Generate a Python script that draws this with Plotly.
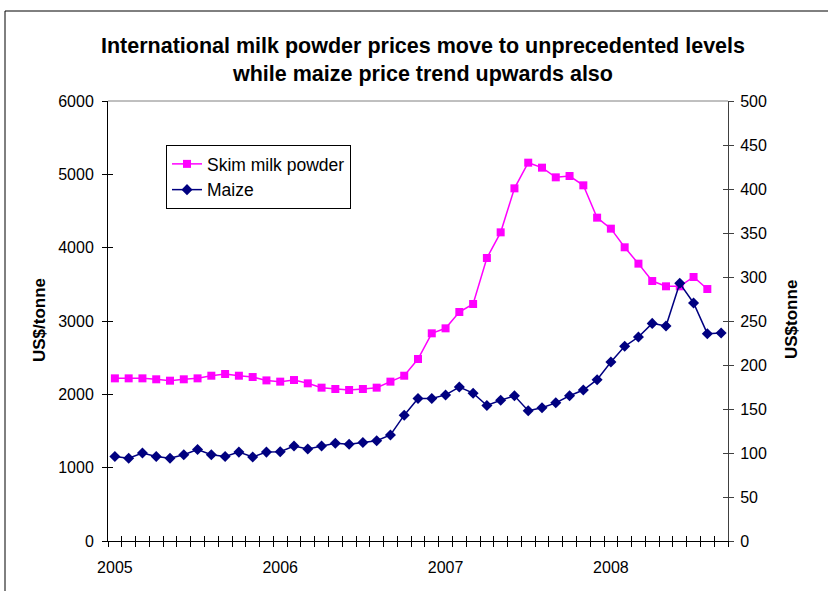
import plotly.graph_objects as go

# ---- data (monthly, Jan 2005 .. Sep 2008) ----
year_labels = ["2005", "2006", "2007", "2008"]
year_positions = [0, 12, 24, 36]

skim_milk_powder = [
    2218, 2218, 2218, 2205, 2186, 2205, 2218, 2254, 2277, 2254, 2236, 2190,
    2173, 2195, 2150, 2091, 2073, 2059, 2073, 2091, 2173, 2254, 2482, 2832,
    2900, 3123, 3232, 3859, 4209, 4809, 5159, 5091, 4959, 4977, 4850, 4409,
    4259, 4005, 3782, 3545, 3473, 3473, 3600, 3436,
]
maize = [
    96, 94, 100, 96, 94, 98, 104, 98, 96, 101, 95.5, 101,
    101.5, 108, 104.5, 108, 111, 110, 112, 114, 120.5, 143, 162, 162,
    166, 175, 168, 154, 160, 165, 148, 151.5, 157, 165, 171.6, 183.3,
    203.4, 221.2, 231.8, 247.3, 244.3, 292.8, 270.5, 235.6, 236.4,
]
n_months = len(maize)
month_idx = list(range(n_months))

W, H = 828, 591
ML, MR, MT, MB = 108, 100, 101, 50
PW, PH = W - ML - MR, H - MT - MB

FONT = "Liberation Sans, Arial, sans-serif"

fig = go.Figure()
fig.add_trace(go.Scatter(
    x=month_idx[:len(skim_milk_powder)], y=skim_milk_powder, name="Skim milk powder",
    mode="lines+markers", line=dict(color="#FF00FF", width=1.5),
    marker=dict(symbol="square", size=8, color="#FF00FF"),
    xaxis="x", yaxis="y",
))
fig.add_trace(go.Scatter(
    x=month_idx, y=maize, name="Maize",
    mode="lines+markers", line=dict(color="#000080", width=1.5),
    marker=dict(symbol="diamond", size=8.5, color="#000080"),
    xaxis="x", yaxis="y2",
))
# dummy traces to activate tick-overlay axes (cross tick marks)
fig.add_trace(go.Scatter(x=[None], y=[None], xaxis="x2", yaxis="y3",
                         showlegend=False, hoverinfo="skip"))
fig.add_trace(go.Scatter(x=[None], y=[None], xaxis="x3", yaxis="y4",
                         showlegend=False, hoverinfo="skip"))

xr = [-0.5, n_months - 0.5]
boundaries = [i - 0.5 for i in range(n_months + 1)]
tickfont = dict(family=FONT, size=16, color="black")

fig.update_layout(
    width=W, height=H,
    margin=dict(l=ML, r=MR, t=MT, b=MB),
    paper_bgcolor="white", plot_bgcolor="white",
    font=dict(family=FONT, color="black"),
    showlegend=True,
    title=dict(
        text="International milk powder prices move to unprecedented levels<br>while maize price trend upwards also",
        font=dict(family=FONT, size=21.5, color="black", weight="bold"),
        x=423 / W, xref="container", xanchor="center",
        y=1 - 53 / H, yref="container", yanchor="middle",
    ),
    xaxis=dict(
        range=xr, tickmode="array", tickvals=year_positions, ticktext=year_labels,
        ticks="", showline=True, linecolor="black", linewidth=1,
        showgrid=False, zeroline=False, tickfont=tickfont, ticklabelstandoff=12,
    ),
    xaxis2=dict(
        range=xr, overlaying="x", anchor="y3", tickmode="array", tickvals=boundaries,
        ticks="outside", ticklen=5, tickcolor="black", showticklabels=False,
        showline=False, showgrid=False, zeroline=False,
    ),
    xaxis3=dict(
        range=xr, overlaying="x", anchor="y4", tickmode="array", tickvals=boundaries,
        ticks="inside", ticklen=5, tickcolor="black", showticklabels=False,
        showline=False, showgrid=False, zeroline=False,
    ),
    yaxis=dict(
        range=[0, 6000], dtick=1000, ticks="outside", ticklen=5, tickcolor="black",
        showline=True, linecolor="black", linewidth=1,
        showgrid=False, zeroline=False, tickfont=tickfont, ticklabelstandoff=5,
    ),
    yaxis3=dict(
        range=[0, 6000], dtick=1000, overlaying="y", anchor="x2", ticks="inside",
        ticklen=5, tickcolor="black", showticklabels=False, showline=False,
        showgrid=False, zeroline=False,
    ),
    yaxis2=dict(
        range=[0, 500], dtick=50, overlaying="y", side="right", anchor="x",
        ticks="outside", ticklen=5, tickcolor="#404040",
        showline=True, linecolor="#404040", linewidth=1,
        showgrid=False, zeroline=False, tickfont=tickfont, ticklabelstandoff=3,
    ),
    yaxis4=dict(
        range=[0, 500], dtick=50, overlaying="y", side="right", anchor="x3",
        ticks="inside", ticklen=5, tickcolor="#404040", showticklabels=False,
        showline=False, showgrid=False, zeroline=False,
    ),
    legend=dict(
        x=(166 - ML) / PW, y=(H - MB - 145) / PH, xanchor="left", yanchor="top",
        bgcolor="white", bordercolor="black", borderwidth=1,
        font=dict(family=FONT, size=17.5, color="black"),
        traceorder="normal", tracegroupgap=0,
    ),
    annotations=[
        dict(text="<b>US$/tonne</b>", textangle=-90, xref="paper", yref="paper",
             x=(39 - ML) / PW, y=(H - MB - 320) / PH, showarrow=False,
             xanchor="center", yanchor="middle",
             font=dict(family=FONT, size=17, color="black")),
        dict(text="<b>US$tonne</b>", textangle=-90, xref="paper", yref="paper",
             x=(791 - ML) / PW, y=(H - MB - 320) / PH, showarrow=False,
             xanchor="center", yanchor="middle",
             font=dict(family=FONT, size=17, color="black")),
    ],
    shapes=[
        # plot-area top border (grey)
        dict(type="line", xref="paper", yref="paper", x0=0, x1=1, y0=1, y1=1,
             line=dict(color="#808080", width=1)),
        # outer chart border (left and top)
        dict(type="line", xref="paper", yref="paper",
             x0=(5 - ML) / PW, x1=(5 - ML) / PW,
             y0=(H - MB - 11) / PH, y1=(H - MB - 600) / PH,
             line=dict(color="black", width=1)),
        dict(type="line", xref="paper", yref="paper",
             x0=(5 - ML) / PW, x1=(840 - ML) / PW,
             y0=(H - MB - 11) / PH, y1=(H - MB - 11) / PH,
             line=dict(color="black", width=1)),
    ],
)

fig.write_html("out.html")
